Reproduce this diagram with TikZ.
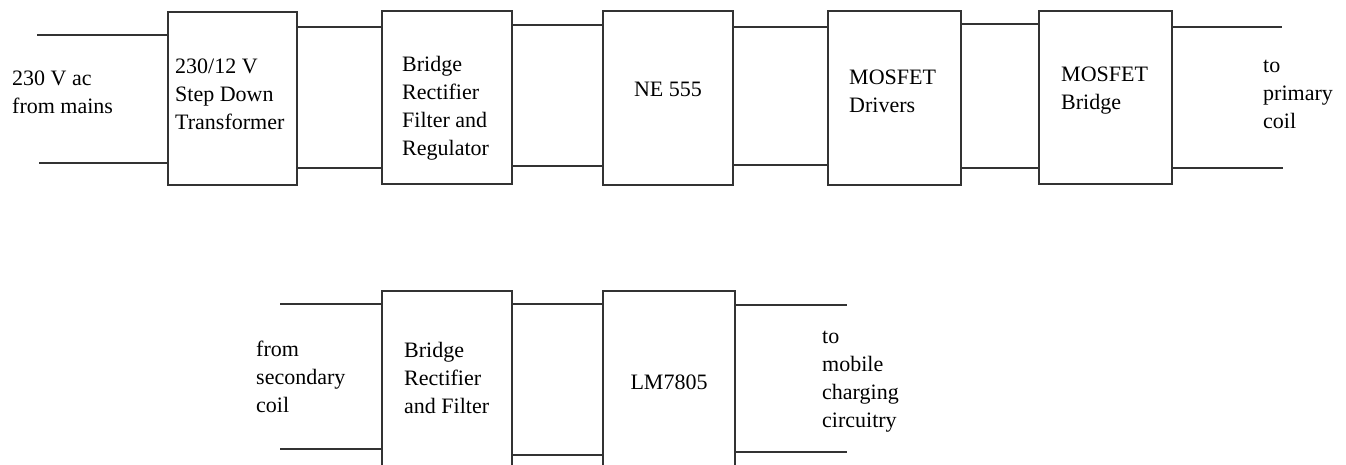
\documentclass[tikz,border=0pt]{standalone}
\usepackage{fontspec}
\setmainfont{Liberation Serif}
\begin{document}
\begin{tikzpicture}[x=1pt,y=-1pt,
  box/.style={draw=black!80, line width=1.3pt, inner sep=0pt},
  wire/.style={draw=black!80, line width=1.3pt},
  lbl/.style={inner sep=0pt, anchor=base west, text=black,
    font=\fontsize{22}{28}\selectfont},
  clbl/.style={lbl, anchor=base}]
\useasboundingbox (0,0) rectangle (1346,465);
\clip (0,0) rectangle (1346,465);
% top row boxes
\node[box, minimum width=129pt, minimum height=173pt] (b1) at (232.5,98.5) {};
\node[box, minimum width=130pt, minimum height=173pt] (b2) at (447,97.5) {};
\node[box, minimum width=130pt, minimum height=174pt] (b3) at (668,98) {};
\node[box, minimum width=133pt, minimum height=174pt] (b4) at (894.5,98) {};
\node[box, minimum width=133pt, minimum height=173pt] (b5) at (1105.5,97.5) {};
% bottom row boxes
\node[box, minimum width=130pt, minimum height=190pt] (b6) at (447,386) {};
\node[box, minimum width=132pt, minimum height=190pt] (b7) at (669,386) {};
% free ends and levels
\coordinate (inT) at (37,35);
\coordinate (inB) at (39,163);
\coordinate (outT) at (1282,27);
\coordinate (outB) at (1283,168);
\coordinate (sinT) at (280,304);
\coordinate (sinB) at (280,449);
\coordinate (soutT) at (847,305);
\coordinate (soutB) at (847,452);
\coordinate (y27) at (0,27);
\coordinate (y168) at (0,168);
\coordinate (y25) at (0,25);
\coordinate (y166) at (0,166);
\coordinate (y165) at (0,165);
\coordinate (y24) at (0,24);
\coordinate (y304) at (0,304);
\coordinate (y455) at (0,455);
% top row wires
\draw[wire] (inT) -- (b1.west |- inT);
\draw[wire] (inB) -- (b1.west |- inB);
\draw[wire] (b1.east |- y27) -- (b2.west |- y27);
\draw[wire] (b1.east |- y168) -- (b2.west |- y168);
\draw[wire] (b2.east |- y25) -- (b3.west |- y25);
\draw[wire] (b2.east |- y166) -- (b3.west |- y166);
\draw[wire] (b3.east |- y27) -- (b4.west |- y27);
\draw[wire] (b3.east |- y165) -- (b4.west |- y165);
\draw[wire] (b4.east |- y24) -- (b5.west |- y24);
\draw[wire] (b4.east |- y168) -- (b5.west |- y168);
\draw[wire] (b5.east |- outT) -- (outT);
\draw[wire] (b5.east |- outB) -- (outB);
% bottom row wires
\draw[wire] (sinT) -- (b6.west |- sinT);
\draw[wire] (sinB) -- (b6.west |- sinB);
\draw[wire] (b6.east |- y304) -- (b7.west |- y304);
\draw[wire] (b6.east |- y455) -- (b7.west |- y455);
\draw[wire] (b7.east |- soutT) -- (soutT);
\draw[wire] (b7.east |- soutB) -- (soutB);
% labels
\node[lbl] (tin) at (12,86) {\parbox[t]{150pt}{\raggedright 230 V ac\\from mains}};
\node[lbl] (t1) at (175,74) {\parbox[t]{150pt}{\raggedright 230/12 V\\Step Down\\Transformer}};
\node[lbl] (t2) at (402,72) {\parbox[t]{150pt}{\raggedright Bridge\\Rectifier\\Filter and\\Regulator}};
\node[clbl] (t3) at (668,97) {NE 555};
\node[lbl] (t4) at (849,85) {\parbox[t]{150pt}{\raggedright MOSFET\\Drivers}};
\node[lbl] (t5) at (1061,82) {\parbox[t]{150pt}{\raggedright MOSFET\\Bridge}};
\node[lbl] (tout) at (1263,73) {\parbox[t]{150pt}{\raggedright to\\primary\\coil}};
\node[lbl] (sin) at (256,356) {\parbox[t]{150pt}{\raggedright from\\secondary\\coil}};
\node[lbl] (t6) at (404,357) {\parbox[t]{150pt}{\raggedright Bridge\\Rectifier\\and Filter}};
\node[clbl] (t7) at (669,389) {LM7805};
\node[lbl] (sout) at (822,343) {\parbox[t]{150pt}{\raggedright to\\mobile\\charging\\circuitry}};
\end{tikzpicture}
\end{document}
